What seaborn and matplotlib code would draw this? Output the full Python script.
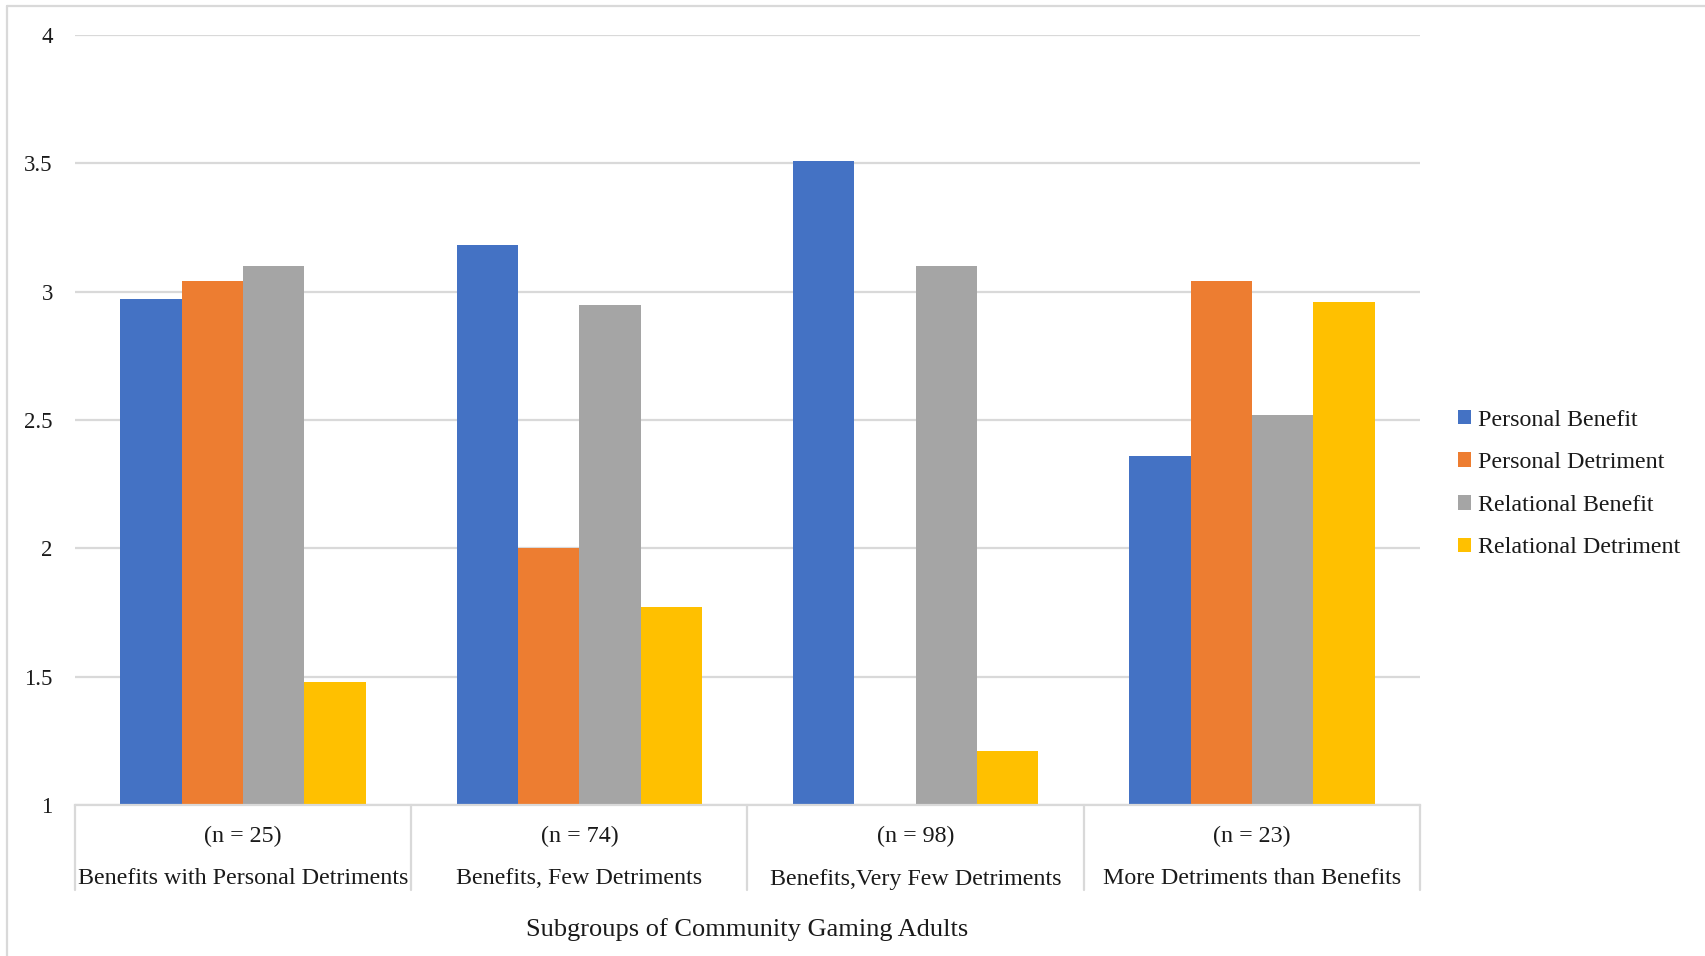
import matplotlib
matplotlib.use("Agg")
import matplotlib.pyplot as plt
from matplotlib.lines import Line2D
import matplotlib.transforms as mtransforms
import seaborn as sns
import pandas as pd

groups = ["Benefits with Personal Detriments", "Benefits, Few Detriments",
          "Benefits,Very Few Detriments", "More Detriments than Benefits"]
sizes = ["(n = 25)", "(n = 74)", "(n = 98)", "(n = 23)"]
series = ["Personal Benefit", "Personal Detriment", "Relational Benefit", "Relational Detriment"]
personal_benefit = [2.97, 3.18, 3.51, 2.36]
personal_detriment = [3.04, 2.00, 1.00, 3.04]
relational_benefit = [3.10, 2.95, 3.10, 2.52]
relational_detriment = [1.48, 1.77, 1.21, 2.96]
yticks = [1, 1.5, 2, 2.5, 3, 3.5, 4]
colors = ["#4472C4", "#ED7D31", "#A5A5A5", "#FFC000"]

rows = []
for s, vals in zip(series, [personal_benefit, personal_detriment, relational_benefit, relational_detriment]):
    for g, v in zip(groups, vals):
        rows.append({"group": g, "series": s, "value": v})
df = pd.DataFrame(rows)

sns.set_theme(style="white")
plt.rcParams["font.family"] = ["Liberation Serif", "DejaVu Serif"]
FS = 17.3
TFS = 16.5
GRID = "#D9D9D9"
TXT = "#1a1a1a"

fig = plt.figure(figsize=(17.05, 9.56), dpi=100)
ax = fig.add_axes([75/1705, 1-805/956, (1420-75)/1705, (805-35)/956])

sns.barplot(data=df, x="group", y="value", hue="series", order=groups, hue_order=series,
            palette=colors, width=0.73, gap=0, saturation=1, linewidth=0, ax=ax, legend=True)

ax.set_ylim(1, 4)
ax.set_xlim(-0.5, 3.5)
ax.set_yticks(yticks)
ax.set_yticklabels([f"{t:g}" for t in yticks], fontsize=TFS, color=TXT)
ax.tick_params(axis="y", length=0, pad=16)
ax.tick_params(axis="x", length=0, labelbottom=False)
ax.yaxis.grid(True, color=GRID, linewidth=1.6)
ax.set_axisbelow(True)
for sp in ["top", "right", "left"]:
    ax.spines[sp].set_visible(False)
ax.spines["bottom"].set_color(GRID)
ax.spines["bottom"].set_linewidth(1.6)
ax.set_xlabel("")
ax.set_ylabel("")

trans = mtransforms.blended_transform_factory(ax.transData, ax.transAxes)
sep_bottom = -(890-805)/770
for b in [-0.5, 0.5, 1.5, 2.5, 3.5]:
    ax.add_line(Line2D([b, b], [0, sep_bottom], transform=trans, color=GRID, linewidth=1.6, clip_on=False))
for i, (g, n) in enumerate(zip(groups, sizes)):
    ax.text(i, -(836-805)/770, n, transform=trans, ha="center", va="center", fontsize=FS, color=TXT)
    ax.text(i, -(879-805)/770, g, transform=trans, ha="center", va="center", fontsize=FS, color=TXT)

fig.text(((75+1420)/2)/1705, 1-930/956, "Subgroups of Community Gaming Adults",
         ha="center", va="center", fontsize=19, color=TXT)

handles, labels = ax.get_legend_handles_labels()
ax.legend(handles, labels, loc="center left", bbox_to_anchor=(1436/1705, 1-484/956),
          bbox_transform=fig.transFigure, frameon=False, fontsize=FS,
          handlelength=0.55, handleheight=0.55, handletextpad=0.3, labelspacing=0.9,
          labelcolor=TXT)

fig.add_artist(Line2D([7/1705, 1.0], [1-6/956, 1-6/956], transform=fig.transFigure, color=GRID, linewidth=1.6))
fig.add_artist(Line2D([7/1705, 7/1705], [0, 1-6/956], transform=fig.transFigure, color=GRID, linewidth=1.6))

fig.savefig("out.png", dpi=100, facecolor="white")
